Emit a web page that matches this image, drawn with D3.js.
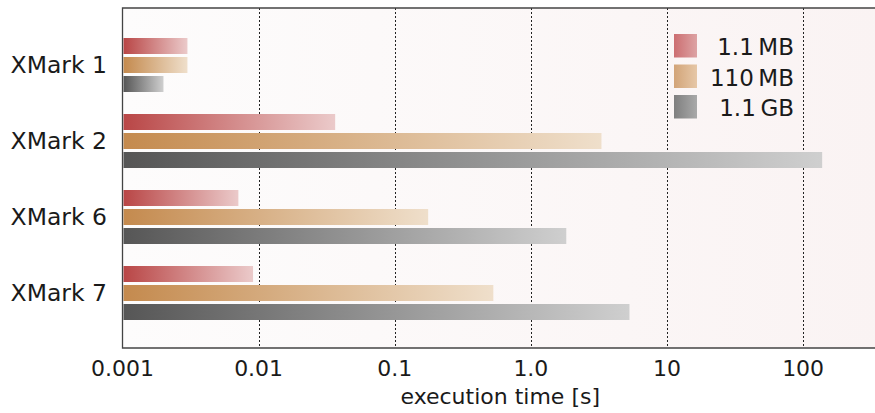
<!DOCTYPE html>
<html>
<head>
<meta charset="utf-8">
<script src="https://cdn.jsdelivr.net/npm/d3@7"></script>
<style>
  body { margin: 0; background: #fff; }
  svg text { font-family: "DejaVu Sans", sans-serif; fill: #1a1a1a; }
</style>
</head>
<body>
<svg id="chart"></svg>
<script>
// data
const queries = ['XMark 1', 'XMark 2', 'XMark 6', 'XMark 7'];
const sizes = ['1.1\u2009MB', '110\u2009MB', '1.1\u2009GB'];
const time11MB = [0.003, 0.0365, 0.0071, 0.0091];
const time110MB = [0.003, 3.3, 0.176, 0.53];
const time11GB = [0.002, 138, 1.82, 5.3];
const tickValues = [0.001, 0.01, 0.1, 1, 10, 100];
const tickLabels = ['0.001', '0.01', '0.1', '1.0', '10', '100'];

const series = [time11MB, time110MB, time11GB];

const config = {
    width: 875, height: 413,
    margin: { top: 8, left: 122.5, right: -3, bottom: 65 }
};

const svg = d3.select('#chart')
    .attr('width', config.width)
    .attr('height', config.height);

const plotRight = config.width - config.margin.right;
const plotBottom = config.height - config.margin.bottom;

// bar colours: dark on the left, light on the right
const barColors = [
    ['#b94646', '#ebcaca'],
    ['#c48a4e', '#efdfcb'],
    ['#565656', '#cfcfcf']
];
const legendColors = [
    ['#cc6e71', '#dda3a4'],
    ['#d2a478', '#e6c7a7'],
    ['#7f7f7f', '#a9a9a9']
];

const defs = svg.append('defs');

function addGradient(id, from, to) {
    const g = defs.append('linearGradient')
        .attr('id', id)
        .attr('x1', '0%').attr('x2', '100%')
        .attr('y1', '0%').attr('y2', '0%');
    g.append('stop').attr('offset', '0%').attr('stop-color', from);
    g.append('stop').attr('offset', '100%').attr('stop-color', to);
}

addGradient('bg', '#fdfcfc', '#faf3f3');
barColors.forEach((c, i) => addGradient('bar' + i, c[0], c[1]));
legendColors.forEach((c, i) => addGradient('leg' + i, c[0], c[1]));

const x = d3.scaleLog()
    .domain([0.001, Math.pow(10, 2.55)])
    .range([config.margin.left, plotRight]);

const y = d3.scaleBand()
    .domain(queries)
    .range([26.5, 330.5]);

const yInner = d3.scaleBand()
    .domain(d3.range(sizes.length))
    .range([11.5, 65.5])
    .paddingInner(0.158);

// plot background
svg.append('rect')
    .attr('x', config.margin.left)
    .attr('y', config.margin.top)
    .attr('width', plotRight - config.margin.left)
    .attr('height', plotBottom - config.margin.top)
    .attr('fill', 'url(#bg)');

// dotted grid lines
svg.append('g')
    .selectAll('line')
    .data(tickValues.slice(1))
    .enter()
    .append('line')
    .attr('x1', d => Math.round(x(d)) + 0.5)
    .attr('x2', d => Math.round(x(d)) + 0.5)
    .attr('y1', config.margin.top)
    .attr('y2', plotBottom)
    .attr('stroke', '#222')
    .attr('stroke-width', 1)
    .attr('stroke-dasharray', '2,2');

// bars
const groups = svg.append('g')
    .selectAll('g')
    .data(queries)
    .enter()
    .append('g')
    .attr('transform', d => `translate(0,${y(d)})`);

groups.selectAll('rect')
    .data((q, qi) => series.map((s, si) => ({ si: si, v: s[qi] })))
    .enter()
    .append('rect')
    .attr('x', config.margin.left + 1)
    .attr('y', d => yInner(d.si))
    .attr('width', d => x(d.v) - config.margin.left - 1)
    .attr('height', yInner.bandwidth())
    .attr('fill', d => 'url(#bar' + d.si + ')');

// query labels
svg.append('g')
    .selectAll('text')
    .data(queries)
    .enter()
    .append('text')
    .attr('x', 107)
    .attr('y', d => y(d) + yInner(1) + yInner.bandwidth() / 2)
    .attr('dy', '0.36em')
    .attr('text-anchor', 'end')
    .style('font-size', '23.5px')
    .text(d => d);

// frame
svg.append('path')
    .attr('d', `M${plotRight},${config.margin.top}H${config.margin.left}V${plotBottom}H${plotRight}`)
    .attr('fill', 'none')
    .attr('stroke', '#444')
    .attr('stroke-width', 1.3);

// x axis labels
svg.append('g')
    .selectAll('text')
    .data(tickValues)
    .enter()
    .append('text')
    .attr('x', d => x(d))
    .attr('y', 376)
    .attr('text-anchor', 'middle')
    .style('font-size', '22px')
    .text((d, i) => tickLabels[i]);

svg.append('text')
    .attr('x', (config.margin.left + plotRight) / 2)
    .attr('y', 404)
    .attr('text-anchor', 'middle')
    .style('font-size', '22px')
    .text('execution time [s]');

// legend
const legend = svg.append('g')
    .selectAll('g')
    .data(sizes)
    .enter()
    .append('g')
    .attr('transform', (d, i) => `translate(674,${34 + i * 30.5})`);

legend.append('rect')
    .attr('width', 23)
    .attr('height', 23.5)
    .attr('fill', (d, i) => 'url(#leg' + i + ')');

legend.append('text')
    .attr('x', 120)
    .attr('y', 21)
    .attr('text-anchor', 'end')
    .style('font-size', '23px')
    .text(d => d);
</script>
</body>
</html>
